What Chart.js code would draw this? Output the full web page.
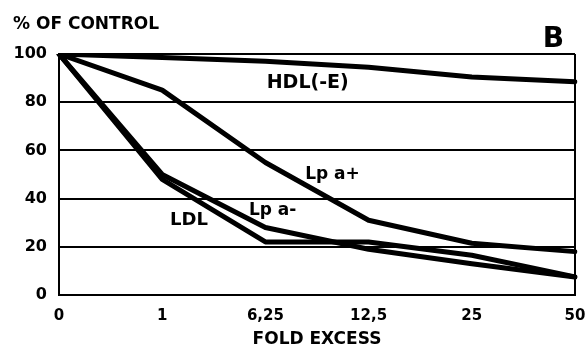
<!DOCTYPE html>
<html>
<head>
<meta charset="utf-8">
<script src="https://cdn.jsdelivr.net/npm/chart.js@4/dist/chart.umd.min.js"></script>
<style>
  html, body { margin: 0; padding: 0; background: #fff; }
  #wrap { width: 586px; height: 350px; position: relative; }
</style>
</head>
<body>
<div id="wrap"><canvas id="c" width="586" height="350"></canvas></div>
<script>
const categories = ['0', '1', '6,25', '12,5', '25', '50'];
const yTicks = [0, 20, 40, 60, 80, 100];
const hdlE = [100, 98.5, 97, 94.5, 90.5, 88.5];
const lpaPlus = [100, 85, 55, 31, 21.5, 18];
const lpaMinus = [100, 50, 28, 19, 13, 7.5];
const ldl = [100, 48, 22, 22, 16.5, 7.5];
const seriesNames = ['HDL(-E)', 'Lp a+', 'Lp a-', 'LDL'];
// label anchor points in data units (category index, value)
const labelSpots = [
  { text: 'HDL(-E)', x: 2.41, y: 88, size: 19 },
  { text: 'Lp a+', x: 2.65, y: 50, size: 17 },
  { text: 'Lp a-', x: 2.07, y: 35, size: 17 },
  { text: 'LDL', x: 1.26, y: 31, size: 18 },
  { text: 'B', x: 4.79, y: 106, size: 28 }
];
const yTitle = '% OF CONTROL';
const xTitle = 'FOLD EXCESS';

const FONT = "'DejaVu Sans', 'Liberation Sans', sans-serif";

const textPlugin = {
  id: 'textPlugin',
  afterDraw(chart) {
    const ctx = chart.ctx;
    const xs = chart.scales.x, ys = chart.scales.y;
    ctx.save();
    ctx.fillStyle = '#000';
    ctx.textAlign = 'center';
    ctx.textBaseline = 'middle';
    labelSpots.forEach(l => {
      ctx.font = 'bold ' + l.size + 'px ' + FONT;
      ctx.fillText(l.text, xs.getPixelForValue(l.x), ys.getPixelForValue(l.y));
    });
    ctx.font = 'bold 17px ' + FONT;
    ctx.textAlign = 'left';
    ctx.fillText(yTitle, 13, 25);
    ctx.restore();
  }
};

const lineDs = (label, data) => ({
  label, data,
  borderColor: '#000',
  borderWidth: 5,
  pointRadius: 0,
  tension: 0,
  fill: false,
  borderJoinStyle: 'round',
  borderCapStyle: 'round'
});

new Chart(document.getElementById('c'), {
  type: 'line',
  data: {
    labels: categories,
    datasets: [
      lineDs(seriesNames[0], hdlE),
      lineDs(seriesNames[1], lpaPlus),
      lineDs(seriesNames[2], lpaMinus),
      lineDs(seriesNames[3], ldl)
    ]
  },
  options: {
    responsive: false,
    animation: false,
    layout: { padding: { top: 54, right: 11, left: 0, bottom: 0 } },
    plugins: { legend: { display: false }, tooltip: { enabled: false } },
    scales: {
      x: {
        type: 'category',
        offset: false,
        grid: {
          drawTicks: false,
          lineWidth: 2,
          color: c => (c.index === categories.length - 1 ? '#000' : 'rgba(0,0,0,0)')
        },
        border: { display: true, color: '#000', width: 2 },
        ticks: {
          color: '#000',
          font: { family: FONT, size: 15, weight: 'bold' },
          padding: 12,
          maxRotation: 0,
          autoSkip: false
        },
        title: {
          display: true,
          text: xTitle,
          color: '#000',
          font: { family: FONT, size: 17, weight: 'bold' },
          padding: { top: 0, bottom: 0 }
        },
        afterFit: s => { s.height = 55; s.paddingLeft = 0; s.paddingRight = 0; }
      },
      y: {
        min: 0,
        max: 100,
        afterBuildTicks: s => { s.ticks = yTicks.map(v => ({ value: v })); },
        grid: { drawTicks: false, lineWidth: 2, color: '#000' },
        border: { display: true, color: '#000', width: 2 },
        ticks: {
          color: '#000',
          font: { family: FONT, size: 16, weight: 'bold' },
          padding: 12
        },
        afterFit: s => { s.width = 59; s.paddingTop = 0; s.paddingBottom = 0; }
      }
    }
  },
  plugins: [textPlugin]
});
</script>
</body>
</html>
